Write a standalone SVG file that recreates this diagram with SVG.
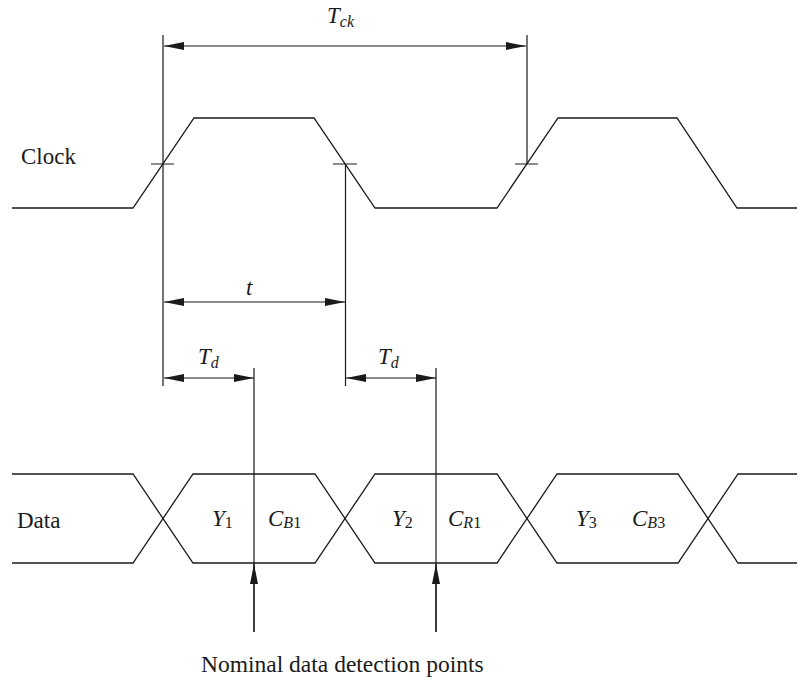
<svg xmlns="http://www.w3.org/2000/svg" width="803" height="677" viewBox="0 0 803 677" font-family="'Liberation Serif', 'Tinos', 'DejaVu Serif', serif">
<style>
.w{fill:none;stroke:#1a1a1a;stroke-width:1.3}
.d{fill:none;stroke:#1a1a1a;stroke-width:1.2}
.lb{font-size:23px;fill:#1a1a1a}
.v{font-size:23px;font-style:italic;fill:#1a1a1a}
.s{font-size:16px}
.n{font-style:normal}
</style>
<defs>
<marker id="ah" viewBox="0 0 20 8" refX="20" refY="4" markerWidth="20" markerHeight="8" markerUnits="userSpaceOnUse" orient="auto-start-reverse">
<path d="M0,0 L20,4 L0,8 z" fill="#1a1a1a"/>
</marker>
</defs>
<rect width="803" height="677" fill="#fff"/>
<g id="clock">
<text class="lb" x="21" y="164">Clock</text>
<polyline class="w" points="12,208 133,208 194,118 314,118 375,208 497,208 558,118 677,118 737,208 797,208"/>
<path class="d" d="M151,164 H174 M333,164 H357 M515,164 H538"/>
</g>
<g id="data">
<text class="lb" x="17" y="528">Data</text>
<path class="w" d="M12,474 H133 L193,563 H315 L375,474 H497 L557,563 H678 L738,474 H797"/>
<path class="w" d="M12,563 H133 L193,474 H315 L375,563 H497 L557,474 H678 L738,563 H797"/>
<text class="v" x="212" y="526">Y<tspan class="s n" dy="2">1</tspan></text>
<text class="v" x="268" y="526">C<tspan class="s" dy="2">B</tspan><tspan class="s n">1</tspan></text>
<text class="v" x="392" y="526">Y<tspan class="s n" dy="2">2</tspan></text>
<text class="v" x="448" y="526">C<tspan class="s" dy="2">R</tspan><tspan class="s n">1</tspan></text>
<text class="v" x="576" y="526">Y<tspan class="s n" dy="2">3</tspan></text>
<text class="v" x="632" y="526">C<tspan class="s" dy="2">B</tspan><tspan class="s n">3</tspan></text>
</g>
<g id="connectors">
<path class="d" d="M163,35 V386 M527,35 V164 M345.5,164 V386 M254,368 V632 M436,368 V632"/>
<line class="d" x1="164" y1="46" x2="526" y2="46" marker-start="url(#ah)" marker-end="url(#ah)"/>
<line class="d" x1="164" y1="302" x2="345" y2="302" marker-start="url(#ah)" marker-end="url(#ah)"/>
<line class="d" x1="164" y1="378" x2="254" y2="378" marker-start="url(#ah)" marker-end="url(#ah)"/>
<line class="d" x1="346" y1="378" x2="436" y2="378" marker-start="url(#ah)" marker-end="url(#ah)"/>
<line class="d" x1="254" y1="632" x2="254" y2="564" marker-end="url(#ah)"/>
<line class="d" x1="436" y1="632" x2="436" y2="564" marker-end="url(#ah)"/>
</g>
<g id="labels">
<text class="v" x="327" y="23">T<tspan class="s" dy="4">ck</tspan></text>
<text class="v" x="246" y="295">t</text>
<text class="v" x="198" y="364">T<tspan class="s" dy="4">d</tspan></text>
<text class="v" x="378" y="364">T<tspan class="s" dy="4">d</tspan></text>
<text class="lb" x="201" y="672" style="font-size:23.5px">Nominal data detection points</text>
</g>
</svg>
